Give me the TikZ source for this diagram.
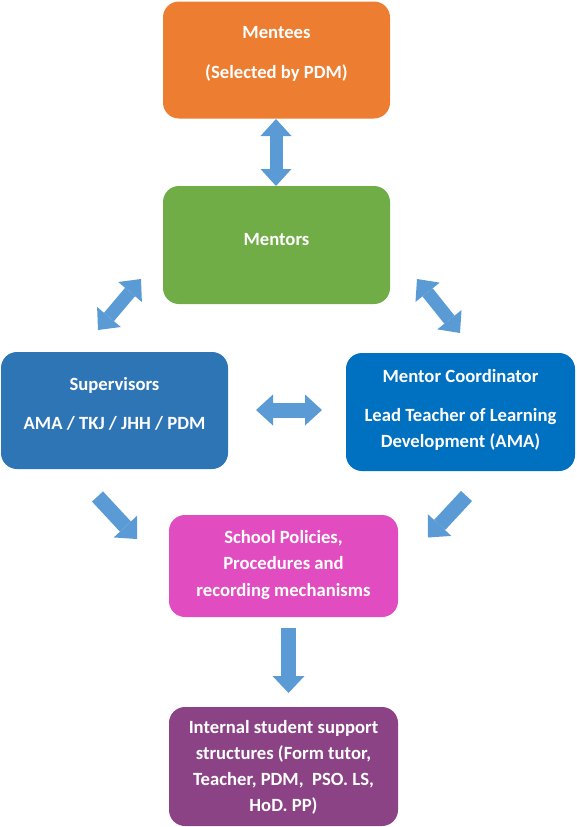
\documentclass[tikz,border=0pt]{standalone}
\usepackage{fontspec}
\setmainfont{Carlito}
\usetikzlibrary{arrows.meta}

\definecolor{menteeorange}{HTML}{ED7D31}
\definecolor{mentorgreen}{HTML}{70AD47}
\definecolor{supervisorblue}{HTML}{2E75B6}
\definecolor{coordblue}{HTML}{0070C0}
\definecolor{policymagenta}{HTML}{E24CC1}
\definecolor{supportpurple}{HTML}{8C4386}
\definecolor{arrowblue}{HTML}{5B9BD5}

\tikzset{
  box/.style={rectangle, rounded corners=16pt, draw=none, inner sep=0pt},
  boxtext/.style={text=white, inner sep=0pt, align=center,
    font=\bfseries\fontsize{18.67}{26.2}\selectfont},
  twoway/.style={draw=arrowblue, line width=13pt,
    {Triangle[width=31pt,length=17pt,line width=0pt]}-{Triangle[width=31pt,length=17pt,line width=0pt]}},
  oneway/.style={draw=arrowblue, line width=15pt,
    -{Triangle[width=32pt,length=17pt,line width=0pt]}},
}

\begin{document}
\begin{tikzpicture}[x=1pt, y=-1pt]
  \useasboundingbox (0,0) rectangle (577,827);

  % boxes
  \node[box, fill=menteeorange, minimum width=227pt, minimum height=117pt] (mentees) at (276.5,60) {};
  \node[box, fill=mentorgreen, minimum width=227pt, minimum height=118pt] (mentors) at (276.5,245) {};
  \node[box, fill=supervisorblue, minimum width=227pt, minimum height=117pt] (supervisors) at (114.5,410.5) {};
  \node[box, fill=coordblue, minimum width=229pt, minimum height=118pt] (coordinator) at (460.5,412) {};
  \node[box, fill=policymagenta, minimum width=229pt, minimum height=102pt] (policies) at (283.5,566) {};
  \node[box, fill=supportpurple, minimum width=229pt, minimum height=119pt] (support) at (283.5,766.5) {};

  % box texts
  \node[boxtext] (menteesT) at (276.5,54) {Mentees\\[14pt](Selected by PDM)};
  \node[boxtext] (mentorsT) at (276.5,240) {Mentors};
  \node[boxtext] (supervisorsT) at (114.5,404) {Supervisors\\[13pt]AMA / TKJ / JHH / PDM};
  \node[boxtext] (coordinatorT) at (460.5,410) {Mentor Coordinator\\[13pt]Lead Teacher of Learning\\Development (AMA)};
  \node[boxtext] (policiesT) at (283.5,565) {School Policies,\\Procedures and\\recording mechanisms};
  \node[boxtext] (supportT) at (283.5,767.5) {Internal student support\\structures (Form tutor,\\Teacher, PDM, \ PSO. LS,\\HoD. PP)};

  % arrow end points
  \coordinate (mteeA) at (276,119);
  \coordinate (mtorA) at (276,186);
  \coordinate (mtorL) at (141,279);
  \coordinate (supU)  at (98,330);
  \coordinate (mtorR) at (417,279);
  \coordinate (crdU)  at (460,333);
  \coordinate (supR)  at (256,410);
  \coordinate (crdL)  at (322,410);
  \coordinate (supD)  at (97.5,496.5);
  \coordinate (polL)  at (137,539);
  \coordinate (crdD)  at (466.5,496);
  \coordinate (polR)  at (428,537.5);
  \coordinate (polD)  at (288.5,628);
  \coordinate (supT)  at (288.5,693);

  % block arrows
  \draw[twoway] (mteeA) -- (mtorA);
  \draw[twoway] (mtorL) -- (supU);
  \draw[twoway] (mtorR) -- (crdU);
  \draw[twoway, line width=15pt] (supR) -- (crdL);
  \draw[oneway] (supD) -- (polL);
  \draw[oneway] (crdD) -- (polR);
  \draw[oneway] (polD) -- (supT);
\end{tikzpicture}
\end{document}
